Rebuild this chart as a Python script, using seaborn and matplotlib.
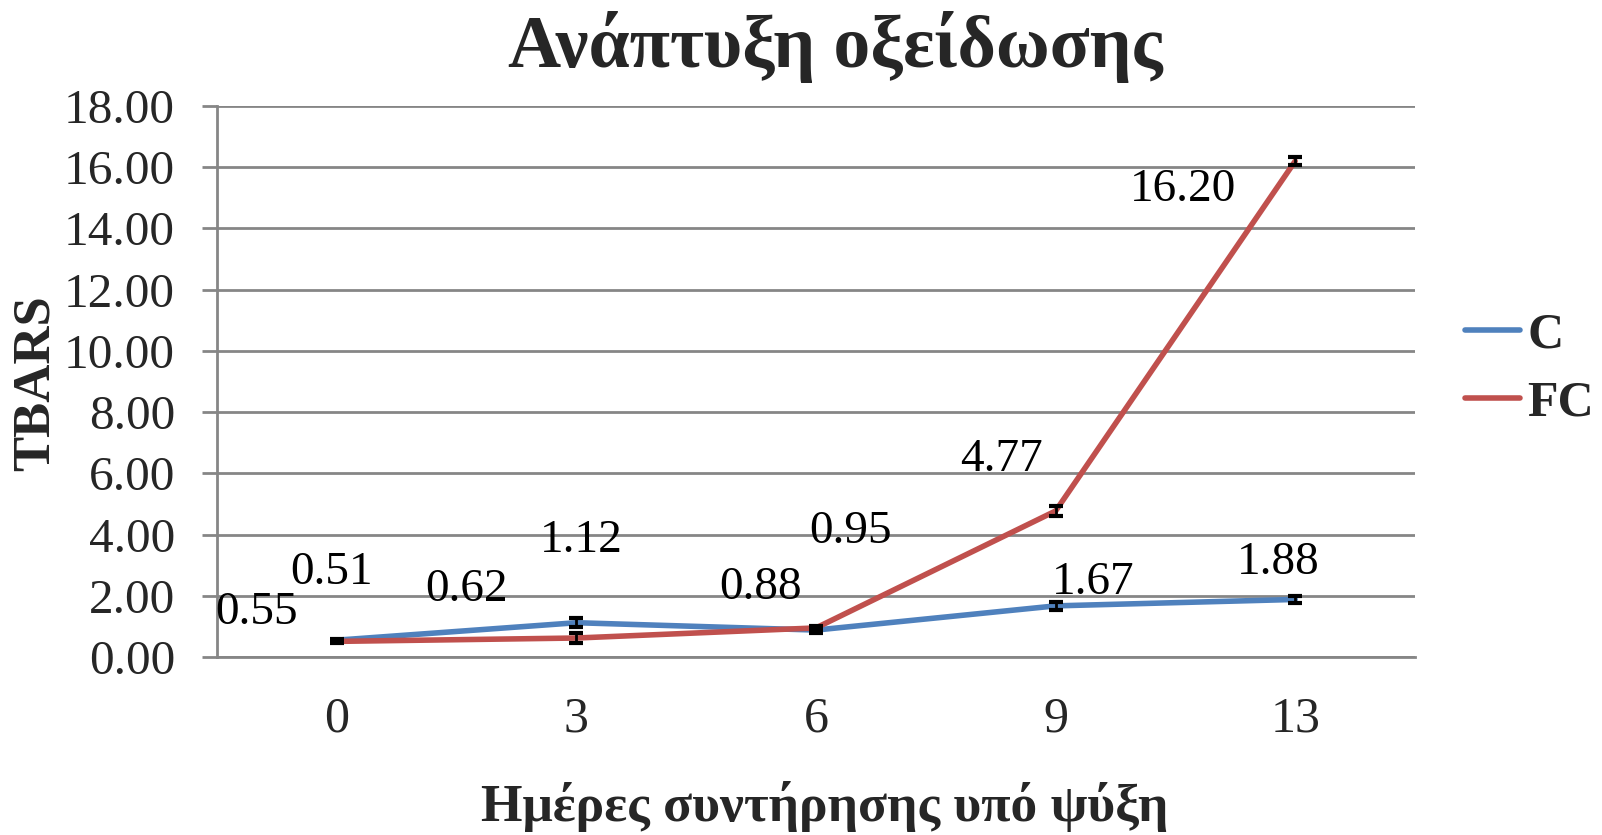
import numpy as np
import pandas as pd
import matplotlib
matplotlib.use("Agg")
import matplotlib.pyplot as plt
import seaborn as sns

# Storage days and TBARS measurements
days = ["0", "3", "6", "9", "13"]
series_names = ["C", "FC"]
c_values = [0.55, 1.12, 0.88, 1.67, 1.88]
fc_values = [0.51, 0.62, 0.95, 4.77, 16.20]
c_errors = [0.05, 0.15, 0.08, 0.13, 0.10]
fc_errors = [0.05, 0.15, 0.06, 0.15, 0.12]
y_ticks = [0, 2, 4, 6, 8, 10, 12, 14, 16, 18]

# Data label offsets (pixels) relative to each point
c_label_offsets = [(-80, 27), (5, 82), (-55, 42), (38, 23), (-17, 37)]
fc_label_offsets = [(-5, 69), (-110, 48), (35, 96), (-54, 51), (-112, -29)]

colors = {"C": "#4F81BD", "FC": "#C0504D"}
grid_gray = "#868686"

sns.set_theme(style="white")
plt.rcParams["font.family"] = ["Liberation Serif", "DejaVu Serif"]

W, H = 1602, 835
pos = np.arange(len(days))
df = pd.DataFrame({
    "pos": np.concatenate([pos, pos]),
    "value": c_values + fc_values,
    "series": ["C"] * len(days) + ["FC"] * len(days),
})

fig = plt.figure(figsize=(W / 100, H / 100), dpi=100)
ax = fig.add_axes([217 / W, 1 - 657 / H, (1415 - 217) / W, (657 - 106) / H])

sns.lineplot(data=df, x="pos", y="value", hue="series", palette=colors,
             linewidth=4.0, ax=ax, legend=False, zorder=3)

# Error bars
for vals, errs in ((c_values, c_errors), (fc_values, fc_errors)):
    ax.errorbar(pos, vals, yerr=errs, fmt="none", ecolor="black",
                elinewidth=2.0, capsize=5, capthick=3, zorder=4)

# Data labels
for vals, offs in ((c_values, c_label_offsets), (fc_values, fc_label_offsets)):
    for x, v, (dx, dy) in zip(pos, vals, offs):
        ax.annotate(f"{v:.2f}", xy=(x, v), xytext=(dx, dy),
                    textcoords="offset pixels", ha="center", va="center",
                    fontsize=34, color="black", zorder=5)

ax.set_xlim(-0.5, len(days) - 0.5)
ax.set_ylim(0, 18)
ax.set_xticks(pos)
ax.set_xticklabels(days)
ax.set_yticks(y_ticks)
ax.set_yticklabels([f"{t:.2f}" for t in y_ticks])

ax.yaxis.grid(True, color=grid_gray, linewidth=2)
ax.xaxis.grid(False)
ax.set_axisbelow(True)
for s in ("top", "right"):
    ax.spines[s].set_visible(False)
for s in ("left", "bottom"):
    ax.spines[s].set_color(grid_gray)
    ax.spines[s].set_linewidth(2)

ax.tick_params(axis="y", which="major", direction="out", length=10.8, width=2,
               color=grid_gray, labelsize=35.5, pad=19.5, left=True)
ax.tick_params(axis="x", which="major", length=0, labelsize=36, pad=28)

ax.set_xlabel("Ημέρες συντήρησης υπό ψύξη", fontsize=38.5, fontweight="bold",
              va="center")
ax.xaxis.set_label_coords(0.507, -0.272)
ax.set_ylabel("TBARS", fontsize=38, fontweight="bold", va="center")
ax.yaxis.set_label_coords(-0.151, 0.497)

fig.text(835 / W, 1 - 67 / H, "Ανάπτυξη οξείδωσης", ha="center",
         va="baseline", fontsize=53, fontweight="bold")

# Legend
handles = [plt.Line2D([], [], color=colors[n], linewidth=4.0) for n in series_names]
leg = fig.legend(handles, series_names, loc="center left",
                 bbox_to_anchor=(1465 / W, 1 - 370 / H), frameon=False,
                 borderpad=0, borderaxespad=0,
                 handlelength=1.1, handletextpad=0.14, labelspacing=0.44,
                 prop={"size": 36, "weight": "bold"})

fig.savefig("out.png", dpi=100)
